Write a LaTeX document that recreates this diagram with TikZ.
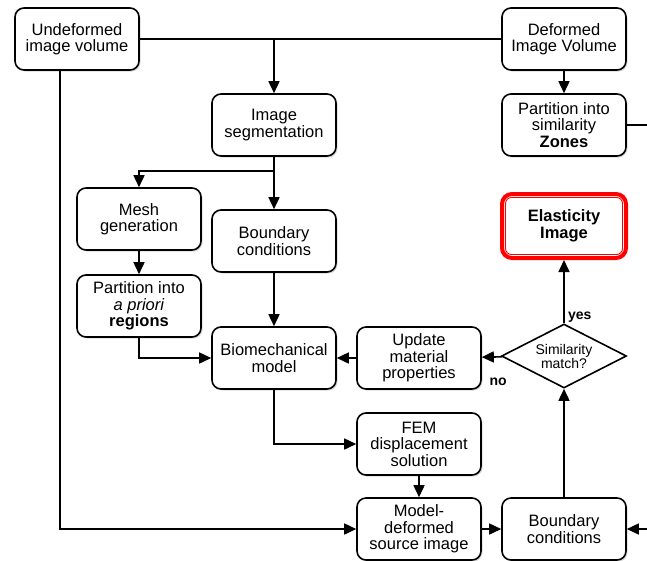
\documentclass[tikz,border=0pt]{standalone}
\usepackage{fontspec}
\setmainfont{Liberation Sans}
\usetikzlibrary{positioning,arrows.meta,shapes.geometric,shadows}

\tikzset{
  box/.style={draw,fill=white,rounded corners=9pt,align=center,
    minimum width=124pt,minimum height=62pt,inner sep=2pt,
    font=\fontsize{16.5}{16.5}\selectfont,
    drop shadow={shadow xshift=1.5pt,shadow yshift=-1.5pt,opacity=0.3}},
  match/.style={draw,fill=white,diamond,aspect=2,align=center,
    minimum width=125pt,minimum height=64pt,inner sep=0pt,
    font=\fontsize{14}{14}\selectfont},
  result/.style={draw=red,fill=white,rounded corners=10pt,line width=4pt,
    align=center,minimum width=124pt,minimum height=64pt,
    font=\fontsize{16.5}{16.5}\selectfont\bfseries},
  tag/.style={font=\fontsize{14}{14}\selectfont\bfseries}
}

\begin{document}
\begin{tikzpicture}[x=1pt,y=-1pt,>={Triangle[length=12pt,width=11pt]},line width=1.6pt]
\useasboundingbox (0,0) rectangle (647,560);
\clip (0,0) rectangle (647,560);

\node[box] (undef) at (77,39) {Undeformed\\image volume};
\node[box] (def) at (564,39) {Deformed\\Image Volume};
\node[box] (seg) at (274,125) {Image\\segmentation};
\node[box] (zones) at (564,125) {Partition into\\similarity\\\textbf{Zones}};
\node[box] (mesh) at (139,219) {Mesh\\generation};
\node[box] (bc1) at (274,241) {Boundary\\conditions};
\node[box] (apriori) at (139,306) {Partition into\\\textit{a priori}\\\textbf{regions}};
\node[box] (bio) at (274,358) {Biomechanical\\model};
\node[box] (upd) at (419,358) {Update\\material\\properties};
\node[box] (fem) at (419,444) {FEM\\displacement\\solution};
\node[box] (mdef) at (419,529) {Model-\\deformed\\source image};
\node[box] (bc2) at (564,529) {Boundary\\conditions};
\node[match] (sim) at (564,356) {Similarity\\match?};
\node[result] (elast) at (564,226) {Elasticity\\Image};
\draw[red,line width=0.9pt,rounded corners=6pt] ([xshift=5.5pt,yshift=-5.5pt]elast.north west) rectangle ([xshift=-5.5pt,yshift=5.5pt]elast.south east);

% top row
\draw (undef) -- (def);
\draw[->] (seg.north |- undef) -- (seg);
\draw[->] (def) -- (zones);
\draw[->] (zones.east) -- ++(40,0) |- (bc2.east);
\draw[->] ([xshift=-17pt]undef.south) |- (mdef.west);

% model branch
\draw[->] (seg) -- (bc1);
\draw[->] ([yshift=-14pt]seg.south) -| (mesh.north);
\draw[->] (mesh) -- (apriori);
\draw[->] (apriori.south) |- (bio.west);
\draw[->] (bc1) -- (bio);
\draw[->] (bio.south) |- (fem.west);
\draw[->] (fem) -- (mdef);
\draw[->] (mdef) -- (bc2);

% loop
\draw[->] (bc2) -- (sim);
\draw[->] (sim) -- (elast) node[tag,pos=0.1,right]{yes};
\draw[->] (sim) -- (upd) node[tag,pos=0.2,below=17pt]{no};
\draw[->] (upd) -- (bio);
\end{tikzpicture}
\end{document}
